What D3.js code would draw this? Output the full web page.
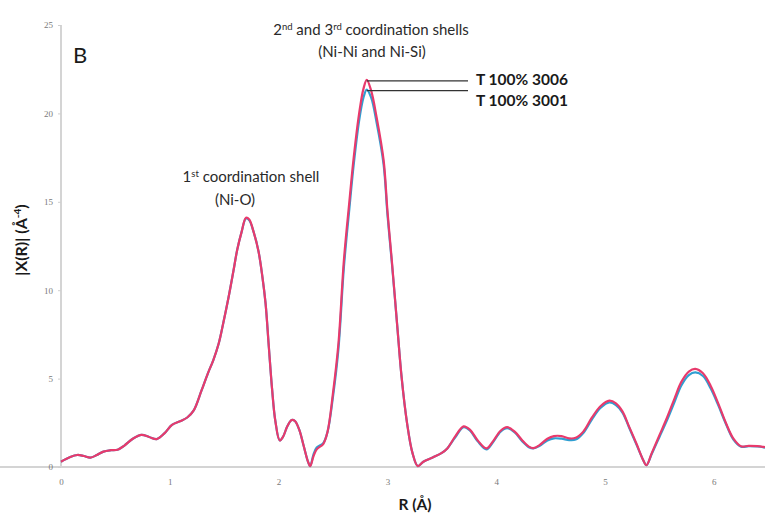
<!DOCTYPE html>
<html><head><meta charset="utf-8">
<script src="https://cdn.jsdelivr.net/npm/d3@7"></script>
<style>body{margin:0;background:#fff}svg{display:block}</style>
</head><body>
<svg id="c" width="765" height="513"></svg>
<script>
const rValues = [0.00,0.08,0.15,0.21,0.27,0.33,0.39,0.46,0.52,0.58,0.66,0.74,0.81,0.88,0.95,1.02,1.10,1.16,1.22,1.29,1.35,1.40,1.45,1.49,1.54,1.585,1.62,1.66,1.70,1.73,1.77,1.815,1.85,1.88,1.91,1.94,1.97,2.01,2.04,2.08,2.12,2.15,2.19,2.23,2.27,2.29,2.32,2.35,2.41,2.45,2.50,2.55,2.60,2.65,2.69,2.74,2.78,2.81,2.85,2.90,2.965,3.00,3.04,3.09,3.13,3.18,3.23,3.28,3.33,3.42,3.50,3.55,3.62,3.70,3.76,3.83,3.91,3.97,4.04,4.10,4.17,4.24,4.30,4.34,4.40,4.47,4.53,4.60,4.67,4.73,4.80,4.88,4.96,5.04,5.10,5.16,5.22,5.29,5.35,5.38,5.43,5.50,5.57,5.64,5.70,5.77,5.83,5.90,5.97,6.04,6.11,6.18,6.25,6.32,6.40,6.47];
const series3006 = [0.30,0.55,0.68,0.62,0.53,0.68,0.87,0.95,0.98,1.2,1.6,1.82,1.7,1.58,1.9,2.38,2.6,2.8,3.2,4.3,5.3,6.05,7.0,8.1,9.6,11.1,12.3,13.3,14.1,14.0,13.3,12.2,10.8,9.25,6.8,4.4,2.6,1.5,1.7,2.3,2.66,2.6,2.1,1.2,0.3,0.05,0.6,1.0,1.3,2.0,4.2,7.0,11.7,15.0,17.5,20.0,21.4,21.9,21.3,19.8,17.35,14.5,11.7,8.0,5.1,2.5,0.8,0.05,0.3,0.55,0.8,1.05,1.7,2.3,2.1,1.5,1.05,1.45,2.05,2.25,2.0,1.5,1.15,1.07,1.25,1.6,1.75,1.75,1.62,1.65,2.0,2.8,3.45,3.75,3.6,3.15,2.3,1.3,0.4,0.1,0.8,1.8,2.8,3.9,4.8,5.4,5.55,5.3,4.6,3.6,2.5,1.6,1.17,1.2,1.18,1.12];
const series3001 = [0.30,0.55,0.68,0.62,0.53,0.68,0.87,0.95,0.98,1.2,1.6,1.82,1.7,1.58,1.9,2.38,2.6,2.8,3.2,4.3,5.3,6.05,7.0,8.1,9.6,11.1,12.3,13.3,14.05,13.95,13.3,12.2,10.8,9.25,6.8,4.4,2.6,1.5,1.7,2.3,2.66,2.6,2.1,1.2,0.3,0.05,0.7,1.1,1.35,2.0,4.0,6.7,11.3,14.6,17.1,19.6,20.9,21.35,20.9,19.5,17.1,14.3,11.6,8.0,5.1,2.5,0.8,0.05,0.3,0.55,0.8,1.05,1.65,2.25,2.05,1.45,1.0,1.4,2.0,2.2,1.95,1.45,1.12,1.05,1.2,1.5,1.62,1.6,1.52,1.55,1.92,2.7,3.35,3.65,3.5,3.08,2.25,1.25,0.4,0.1,0.75,1.7,2.65,3.7,4.6,5.2,5.35,5.15,4.45,3.5,2.45,1.55,1.15,1.18,1.16,1.1];
const xTicks = [0,1,2,3,4,5,6];
const yTicks = [0,5,10,15,20,25];
const seriesNames = ["T 100% 3006","T 100% 3001"];

const svg = d3.select("#c");
const x = d3.scaleLinear().domain([0, 6.47]).range([61, 765]);
const y = d3.scaleLinear().domain([0, 25]).range([467, 25]);

// axes
const xAxis = svg.append("g").attr("transform","translate(0,467)")
  .call(d3.axisBottom(x).tickValues(xTicks).tickSize(0).tickPadding(12).tickFormat(d3.format("d")));
const yAxis = svg.append("g").attr("transform","translate(61,0)")
  .call(d3.axisLeft(y).tickValues(yTicks).tickSize(3).tickPadding(5).tickFormat(d3.format("d")));
[xAxis,yAxis].forEach(a=>{
  a.select(".domain").attr("stroke","#d4d4d4").attr("stroke-width",2);
  a.selectAll(".tick line").attr("stroke","#cfcfcf");
  a.selectAll(".tick text").attr("fill","#7a7a7a").attr("font-family","'Liberation Serif', serif").attr("font-size",9);
});
yAxis.select(".domain").attr("d","M0,25V467");
xAxis.select(".domain").attr("d","M0,0H765");

const line = d3.line().x((d,i)=>x(rValues[i])).y(d=>y(d)).curve(d3.curveCatmullRom.alpha(0.5));
svg.append("path").datum(series3001).attr("d",line).attr("fill","none").attr("stroke","#2f9fd2").attr("stroke-width",2.2);
svg.append("path").datum(series3006).attr("d",line).attr("fill","none").attr("stroke","#e83a6c").attr("stroke-width",2.2);

// legend leader lines
const peak6 = d3.max(series3006), peak1 = d3.max(series3001);
const peakR = rValues[series3006.indexOf(peak6)];
svg.append("line").attr("x1",x(peakR)).attr("x2",468).attr("y1",y(peak6)+1).attr("y2",y(peak6)+1).attr("stroke","#333").attr("stroke-width",1.2);
svg.append("line").attr("x1",x(peakR)).attr("x2",468).attr("y1",y(peak1)+1).attr("y2",y(peak1)+1).attr("stroke","#333").attr("stroke-width",1.2);
const lf = "Lato, 'Open Sans', sans-serif";
svg.append("text").attr("x",476).attr("y",85).attr("font-family",lf).attr("font-weight","bold").attr("font-size",15.5).attr("fill","#1a1a1a").text(seriesNames[0]);
svg.append("text").attr("x",476).attr("y",106).attr("font-family",lf).attr("font-weight","bold").attr("font-size",15.5).attr("fill","#1a1a1a").text(seriesNames[1]);

// annotations
function ann(xc, yb, parts){
  const t = svg.append("text").attr("x",xc).attr("y",yb).attr("text-anchor","middle")
    .attr("font-family",lf).attr("font-size",15).attr("fill","#2a2a2a");
  parts.forEach(p=>{
    const s = t.append("tspan").text(p[0]);
    if(p[1]) s.attr("baseline-shift","super").attr("font-size",9.5);
  });
}
ann(371, 35, [["2"],["nd",1],[" and 3"],["rd",1],[" coordination shells"]]);
ann(372, 57, [["(Ni-Ni and Ni-Si)"]]);
ann(251, 182, [["1"],["st",1],[" coordination shell"]]);
ann(235, 205, [["(Ni-O)"]]);

svg.append("text").attr("x",73).attr("y",63).attr("font-family",lf).attr("font-size",22).attr("fill","#1a1a1a").text("B");

// axis titles
svg.append("text").attr("x",415).attr("y",510).attr("text-anchor","middle").attr("font-family",lf)
  .attr("font-weight","bold").attr("font-size",15.5).attr("fill","#1a1a1a").text("R (Å)");
const yl = svg.append("text").attr("transform","translate(27,240) rotate(-90)").attr("text-anchor","middle")
  .attr("font-family",lf).attr("font-weight","bold").attr("font-size",16).attr("fill","#1a1a1a");
yl.append("tspan").text("|X(R)| (Å");
yl.append("tspan").attr("baseline-shift","super").attr("font-size",10).text("-4");
yl.append("tspan").text(")");
</script>
</body></html>
